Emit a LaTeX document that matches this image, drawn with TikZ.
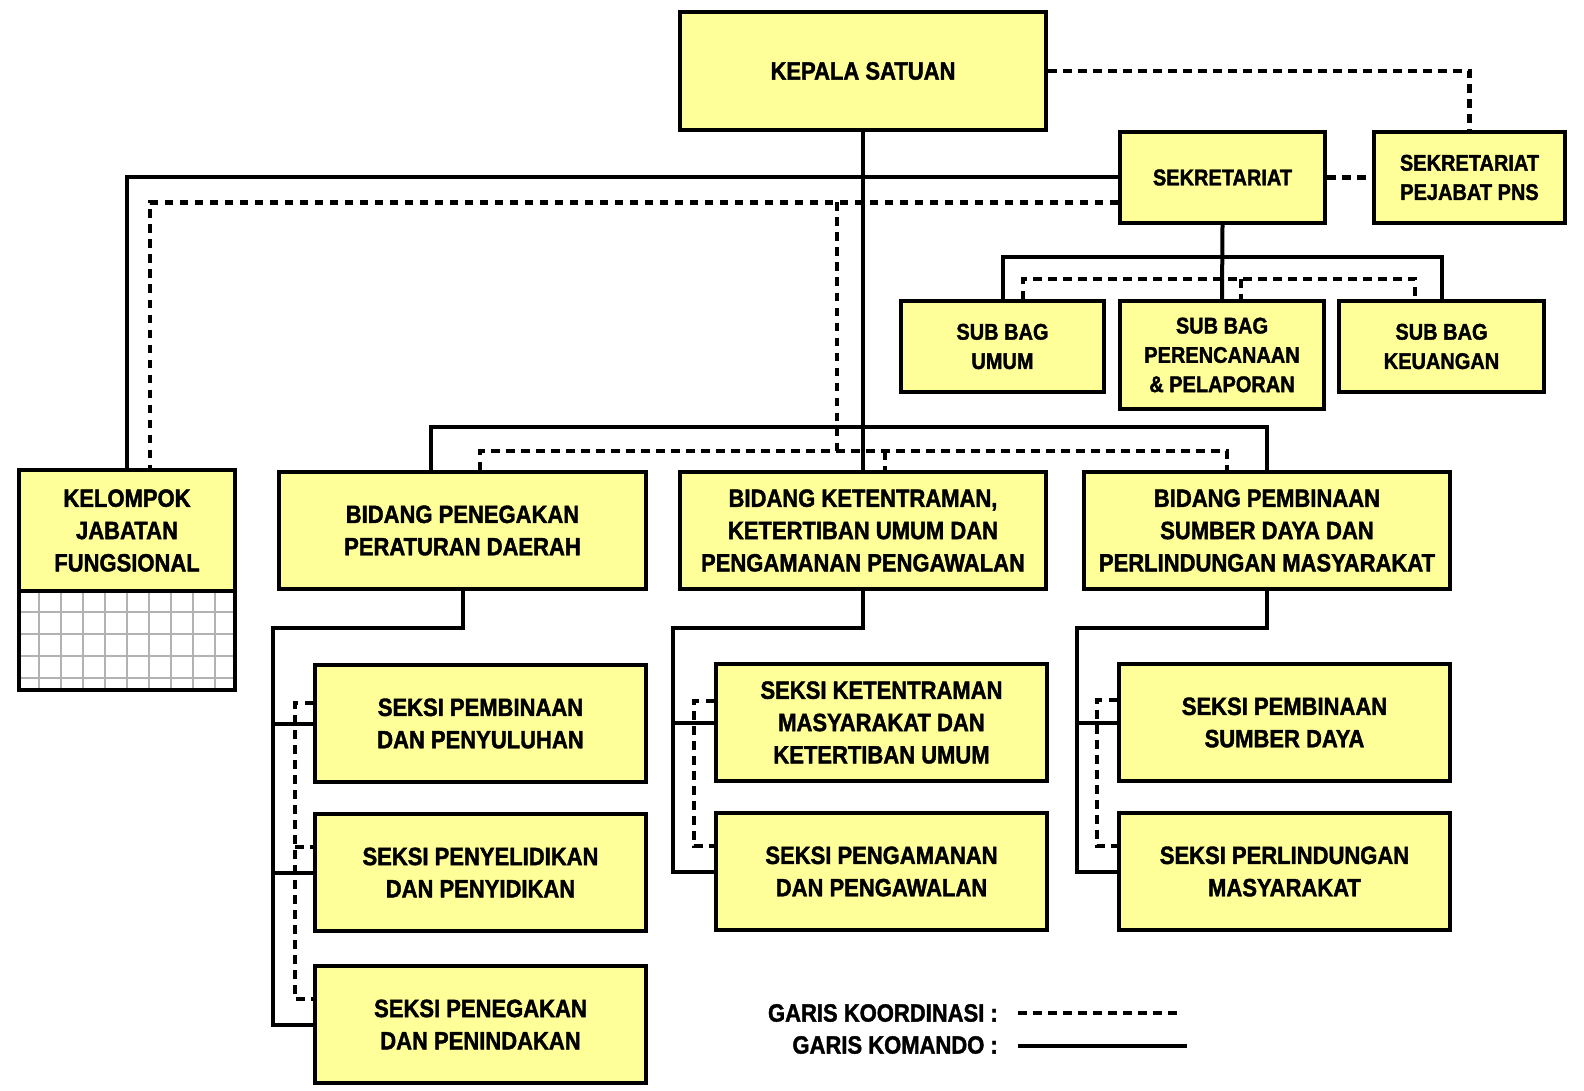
\documentclass[tikz,border=0pt]{standalone}
\usepackage{fontspec}
\newfontfamily\lab{Liberation Sans}[FakeStretch=0.88, FakeBold=1.6]
\definecolor{boxfill}{RGB}{255,255,153}
\tikzset{
 box/.style={draw, line width=4pt, fill=boxfill, inner sep=0pt, align=center,
   font=\lab\bfseries\fontsize{25pt}{32.3pt}\selectfont},
 sbox/.style={box, font=\lab\bfseries\fontsize{22.7pt}{29.3pt}\selectfont},
 bigw/.style={minimum width=366pt, minimum height=117pt},
 seksw/.style={minimum width=331pt, minimum height=117pt},
 cmd/.style={line width=4pt},
 coord/.style={line width=4.5pt, dash pattern=on 8.5pt off 6.5pt},
 legtext/.style={inner sep=0pt, anchor=east, font=\lab\bfseries\fontsize{25pt}{30pt}\selectfont},
}
\begin{document}
\begin{tikzpicture}[x=1pt,y=-1pt]
\useasboundingbox (0,0) rectangle (1584,1091);
\fill[white] (0,0) rectangle (1584,1091);

% ---- boxes ----
\node[box, minimum width=366pt, minimum height=118pt] (kep) at (863,71) {KEPALA SATUAN};
\node[sbox, minimum width=205pt, minimum height=91pt] (sek) at (1222.5,177.5) {SEKRETARIAT};
\node[sbox, minimum width=191pt, minimum height=91pt] (pns) at (1469.5,177.5) {SEKRETARIAT\\PEJABAT PNS};
\node[sbox, minimum width=203pt, minimum height=91pt] (umum) at (1002.5,346.5) {SUB BAG\\UMUM};
\node[sbox, minimum width=204pt, minimum height=108pt] (ren) at (1222,355) {SUB BAG\\PERENCANAAN\\\& PELAPORAN};
\node[sbox, minimum width=205pt, minimum height=91pt] (keu) at (1441.5,346.5) {SUB BAG\\KEUANGAN};

% Kelompok jabatan fungsional with grid
\node[draw, line width=4pt, fill=white, inner sep=0pt, minimum width=216pt, minimum height=99pt] (kgrid) at (127,640.5) {};
\foreach \gx in {39,61,...,215} \draw[gray!60, line width=1.2pt] (\gx,593) -- (\gx,688);
\foreach \gy in {612,634,656,678} \draw[gray!60, line width=1.2pt] (21,\gy) -- (233,\gy);
\node[box, minimum width=216pt, minimum height=121pt] (kel) at (127,530.5) {KELOMPOK\\JABATAN\\FUNGSIONAL};

\node[box, bigw, minimum width=367pt] (bpp) at (462.5,530.5) {BIDANG PENEGAKAN\\PERATURAN DAERAH};
\node[box, bigw] (bkt) at (863,530.5) {BIDANG KETENTRAMAN,\\KETERTIBAN UMUM DAN\\PENGAMANAN PENGAWALAN};
\node[box, bigw] (bps) at (1267,530.5) {BIDANG PEMBINAAN\\SUMBER DAYA DAN\\PERLINDUNGAN MASYARAKAT};

\node[box, seksw] (s1) at (480.5,723.5) {SEKSI PEMBINAAN\\DAN PENYULUHAN};
\node[box, seksw] (s2) at (480.5,872.5) {SEKSI PENYELIDIKAN\\DAN PENYIDIKAN};
\node[box, seksw] (s3) at (480.5,1024.5) {SEKSI PENEGAKAN\\DAN PENINDAKAN};
\node[box, seksw] (s4) at (881.5,722.5) {SEKSI KETENTRAMAN\\MASYARAKAT DAN\\KETERTIBAN UMUM};
\node[box, seksw] (s5) at (881.5,871.5) {SEKSI PENGAMANAN\\DAN PENGAWALAN};
\node[box, seksw] (s6) at (1284.5,722.5) {SEKSI PEMBINAAN\\SUMBER DAYA};
\node[box, seksw] (s7) at (1284.5,871.5) {SEKSI PERLINDUNGAN\\MASYARAKAT};

% ---- coordinates ----
\coordinate (sekd) at ([yshift=-25pt]sek.west);
\coordinate (keld) at ([xshift=23pt]kel.north);
\coordinate (dbK) at (837,451);
\coordinate (dbL) at (480,451);
\coordinate (dbM) at (885,451);
\coordinate (dbR) at (1227,451);
\coordinate (bbL) at (431,427);
\coordinate (sb) at (1222,257);
\coordinate (dsL) at (1023,279);
\coordinate (dsM) at (1241,279);
\coordinate (dsR) at (1415,279);

% ---- coordination (dashed) lines ----
\draw[coord] (kep.east) -| (pns.north);
\draw[coord] (sek.east) -- (pns.west);
\draw[coord] (sekd) -| (keld);
\draw[coord] (dbK |- sekd) -- (dbK);
\draw[coord] (bpp.north -| dbL) -- (dbL) -- (dbR) -- (bps.north -| dbR);
\draw[coord] (dbM) -- (bkt.north -| dbM);
\draw[coord] (umum.north -| dsL) -- (dsL) -- (dsR) -- (keu.north -| dsR);
\draw[coord] (dsM) -- (ren.north -| dsM);

% ---- command (solid) lines ----
\draw[cmd] (kep.south) -- (bkt.north);
\draw[cmd] (sek.west) -| (kel.north);
\draw[cmd] (sek.south) -- (ren.north);
\draw[cmd] (umum.north) |- (sb) -| (keu.north);
\draw[cmd] (bpp.north -| bbL) -- (bbL) -| (bps.north);

% group 1
\coordinate (pa) at (273,628);
\draw[cmd] (bpp.south) |- (pa) |- (s3.west);
\draw[cmd] (pa) |- (s1.west);
\draw[cmd] (pa) |- (s2.west);
\coordinate (d1) at ([yshift=20.5pt]s1.west);
\coordinate (d2) at ([yshift=25.5pt]s2.west);
\coordinate (d3) at ([yshift=25.5pt]s3.west);
\coordinate (pdx) at (295,0);
\draw[coord] (d1) -- (d1 -| pdx) -- (d3 -| pdx) -- (d3);
\draw[coord] (d2 -| pdx) -- (d2);

% group 2
\coordinate (pb) at (673,628);
\draw[cmd] (bkt.south) |- (pb) |- (s5.west);
\draw[cmd] (pb) |- (s4.west);
\coordinate (d4) at ([yshift=21.5pt]s4.west);
\coordinate (d5) at ([yshift=25.5pt]s5.west);
\coordinate (pdy) at (694,0);
\draw[coord] (d4) -- (d4 -| pdy) -- (d5 -| pdy) -- (d5);

% group 3
\coordinate (pc) at (1077,628);
\draw[cmd] (bps.south) |- (pc) |- (s7.west);
\draw[cmd] (pc) |- (s6.west);
\coordinate (d6) at ([yshift=22.5pt]s6.west);
\coordinate (d7) at ([yshift=25.5pt]s7.west);
\coordinate (pdz) at (1097,0);
\draw[coord] (d6) -- (d6 -| pdz) -- (d7 -| pdz) -- (d7);

% ---- legend ----
\node[legtext] (leg1) at (998,1013) {GARIS KOORDINASI :};
\node[legtext] (leg2) at (998,1045) {GARIS KOMANDO :};
\coordinate (l1e) at (1182,1013);
\coordinate (l2e) at (1187,1046);
\draw[coord] ([xshift=20pt]leg1.east) -- (l1e);
\draw[cmd] ([xshift=20pt,yshift=-1pt]leg2.east) -- (l2e);
\end{tikzpicture}
\end{document}
